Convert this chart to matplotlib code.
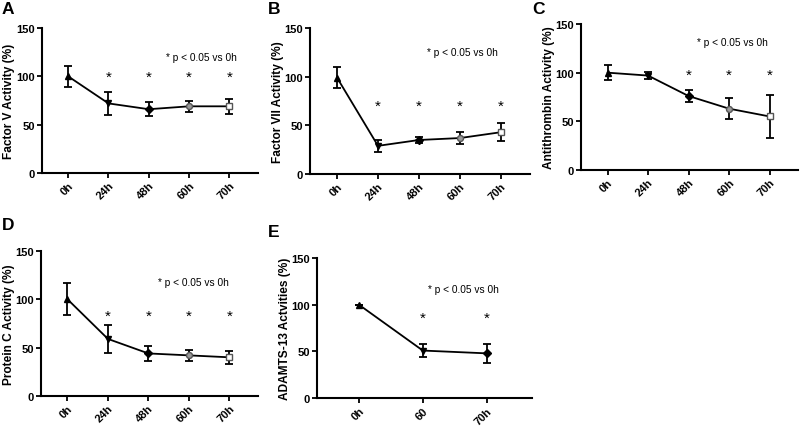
import matplotlib
matplotlib.use("Agg")
import matplotlib.pyplot as plt
import numpy as np

plt.rcParams["font.family"] = ["Liberation Sans", "DejaVu Sans"]
plt.rcParams["font.weight"] = "bold"

times = ["0h", "24h", "48h", "60h", "70h"]
times_e = ["0h", "60", "70h"]

factor_v = [100, 72, 66, 69, 69]
factor_v_err = [11, 12, 7, 6, 7.5]
factor_vii = [99, 29, 35, 37, 43]
factor_vii_err = [11, 6, 3, 6, 9.5]
antithrombin = [100, 97, 76, 63, 55]
antithrombin_err = [8, 4, 6, 10.5, 22]
protein_c = [100, 59, 44, 42, 40]
protein_c_err = [16.5, 14.5, 7.5, 6, 7]
adamts13 = [100, 51, 48]
adamts13_err = [0, 6.5, 10]

STAR_Y = {"A": 100, "B": 70, "C": 98, "D": 83, "E": 86}
STARS = {"A": [1, 2, 3, 4], "B": [1, 2, 3, 4], "C": [2, 3, 4],
         "D": [1, 2, 3, 4], "E": [1, 2]}

MARKERS = [("^", "black", "black"), ("v", "black", "black"), ("D", "black", "black"),
           ("o", "#999999", "#555555"), ("s", "white", "#555555")]
MARKERS_E = [("^", "black", "black"), ("v", "black", "black"), ("D", "black", "black")]

fig = plt.figure(figsize=(8, 4.27), dpi=100)

panels = [
    ("A", [0.052, 0.5925, 0.2705, 0.3395], times, factor_v, factor_v_err,
     "Factor V Activity (%)", (3.3, 120), MARKERS),
    ("B", [0.3875, 0.590, 0.275, 0.342], times, factor_vii, factor_vii_err,
     "Factor VII Activity (%)", (3.07, 125), MARKERS),
    ("C", [0.726, 0.5995, 0.272, 0.342], times, antithrombin, antithrombin_err,
     "Antithrombin Activity (%)", (3.09, 132), MARKERS),
    ("D", [0.051, 0.0703, 0.2715, 0.3397], times, protein_c, protein_c_err,
     "Protein C Activity (%)", (3.12, 118), MARKERS),
    ("E", [0.396, 0.0650, 0.269, 0.3285], times_e, adamts13, adamts13_err,
     "ADAMTS-13 Actvities (%)", (1.63, 117), MARKERS_E),
]

letter_pos = {"A": (0.002, 0.995), "B": (0.335, 0.995), "C": (0.665, 0.995),
              "D": (0.002, 0.49), "E": (0.335, 0.472)}

for name, rect, labels, vals, errs, ylabel, txt, marks in panels:
    ax = fig.add_axes(rect)
    x = np.arange(len(labels))
    ax.plot(x, vals, color="black", lw=1.3, zorder=2)
    ax.errorbar(x, vals, yerr=errs, fmt="none", ecolor="black", elinewidth=1.3,
                capsize=3, capthick=1.3, zorder=3)
    for xi, v, (m, fc, ec) in zip(x, vals, marks):
        ax.plot(xi, v, marker=m, ms=4.3, mfc=fc, mec=ec, mew=1, zorder=4)
    for i in STARS[name]:
        ax.text(i, STAR_Y[name], "*", ha="center", va="center", fontsize=11,
                fontweight="normal")
    ax.text(txt[0], txt[1], "* p < 0.05 vs 0h", ha="center", va="center",
            fontsize=7.3, fontweight="normal")
    ax.set_xlim(-0.66, len(labels) - 1 + 0.71)
    ax.set_ylim(0, 150)
    ax.set_yticks([0, 50, 100, 150])
    ax.set_xticks(x)
    ax.set_xticklabels(labels, rotation=45, ha="right", rotation_mode="anchor")
    ax.set_ylabel(ylabel, fontsize=8.6, fontweight="bold", labelpad=0.5)
    ax.tick_params(labelsize=8, width=1.3, length=3.5)
    ax.tick_params(axis="y", pad=1.5)
    ax.tick_params(axis="x", pad=1.5)
    for s in ["top", "right"]:
        ax.spines[s].set_visible(False)
    for s in ["left", "bottom"]:
        ax.spines[s].set_linewidth(1.5)
    lx, ly = letter_pos[name]
    fig.text(lx, ly, name, fontsize=12.5, fontweight="bold", ha="left", va="top")

fig.savefig("out.png", dpi=100, facecolor="white")
